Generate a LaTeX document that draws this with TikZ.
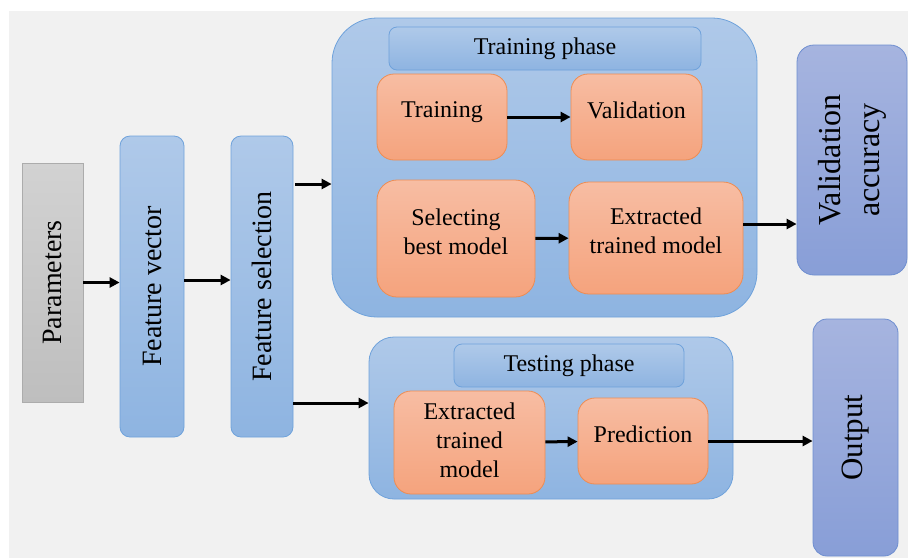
\documentclass[tikz,border=0pt]{standalone}
\usepackage{tikz}
\usepackage{xcolor}
\usepackage{fontspec}
\setmainfont{LiberationSerif}[Extension=.ttf, UprightFont=*-Regular, BoldFont=*-Bold,
  ItalicFont=*-Italic, BoldItalicFont=*-BoldItalic]
\usetikzlibrary{arrows.meta}

\definecolor{panelgrey}{HTML}{F1F1F1}
\definecolor{greytop}{HTML}{D2D2D2}
\definecolor{greybot}{HTML}{BEBEBE}
\definecolor{greyline}{HTML}{ACACAC}
\definecolor{bluetop}{HTML}{AFC9E9}
\definecolor{bluebot}{HTML}{8EB4E1}
\definecolor{blueline}{HTML}{6FA2DB}
\definecolor{orangetop}{HTML}{F7BDA3}
\definecolor{orangebot}{HTML}{F5A37D}
\definecolor{orangeline}{HTML}{EE8C52}
\definecolor{purpletop}{HTML}{A6B4DF}
\definecolor{purplebot}{HTML}{889ED7}
\definecolor{purpleline}{HTML}{6E8ED0}

\newcommand{\vtext}[1]{\rotatebox{90}{\fontsize{28}{34}\selectfont #1}}

\begin{document}
\begin{tikzpicture}[x=1pt, y=-1pt,
  box/.style={draw, line width=0.8pt, align=center, inner sep=0pt,
    font=\rmfamily\fontsize{24}{29}\selectfont},
  greybox/.style={box, draw=greyline, top color=greytop, bottom color=greybot},
  bluebox/.style={box, draw=blueline, top color=bluetop, bottom color=bluebot},
  headbox/.style={bluebox, rounded corners=8pt},
  orangebox/.style={box, draw=orangeline, top color=orangetop,
    bottom color=orangebot, rounded corners=17pt},
  purplebox/.style={box, draw=purpleline, top color=purpletop, bottom color=purplebot},
  flow/.style={-{Triangle[length=10pt,width=10pt]}, line width=3pt}]

  % Background panel
  \useasboundingbox (0,0) rectangle (908,558);
  \fill[panelgrey] (9,11) rectangle (908,558);

  % Input columns
  \node[greybox, minimum width=61pt, minimum height=239pt] (par) at (52.5,282.5) {\vtext{Parameters}};
  \node[bluebox, rounded corners=10pt, minimum width=64pt, minimum height=301pt] (fv) at (152,286.5) {\vtext{Feature vector}};
  \node[bluebox, rounded corners=10pt, minimum width=62pt, minimum height=301pt] (fs) at (262,286.5) {\vtext{Feature selection}};

  % Training phase
  \node[bluebox, rounded corners=45pt, minimum width=425pt, minimum height=299pt] (trainbox) at (544.5,167.5) {};
  \node[headbox, minimum width=312pt, minimum height=43pt] (trainhead) at (545,48.5) {Training phase};
  \node[orangebox, text depth=14pt, minimum width=130pt, minimum height=86pt] (train) at (442,117) {Training};
  \node[orangebox, text depth=14pt, minimum width=131pt, minimum height=86pt] (valid) at (636.5,117) {Validation};
  \node[orangebox, text depth=14pt, rounded corners=20pt, minimum width=158pt, minimum height=117pt] (select) at (456,238.5) {Selecting\\best model};
  \node[orangebox, text depth=14pt, rounded corners=20pt, minimum width=174pt, minimum height=112pt] (extract) at (656,238) {Extracted\\trained model};

  % Testing phase
  \node[bluebox, rounded corners=25pt, minimum width=364pt, minimum height=162pt] (testbox) at (551,418) {};
  \node[headbox, minimum width=230pt, minimum height=43pt] (testhead) at (569,365.5) {Testing phase};
  \node[orangebox, text depth=5pt, minimum width=151pt, minimum height=103pt] (textract) at (469.5,442.5) {Extracted\\trained\\model};
  \node[orangebox, text depth=13pt, minimum width=130pt, minimum height=86pt] (predict) at (643,441) {Prediction};

  % Results
  \node[purplebox, rounded corners=17pt, minimum width=110pt, minimum height=230pt] (valacc) at (852,160)
    {\rotatebox{90}{\fontsize{32}{39}\selectfont\begin{tabular}{@{}c@{}}Validation\\accuracy\end{tabular}}};
  \node[purplebox, rounded corners=14pt, minimum width=85pt, minimum height=237pt] (output) at (855.5,437.5)
    {\rotatebox{90}{\fontsize{31}{37}\selectfont Output}};

  % Arrows
  \draw[flow] (par.east) -- (fv.west |- par.east);
  \draw[flow] (fv.east |- 0,280) -- (fs.west |- 0,280);
  \draw[flow] ([xshift=2pt]fs.east |- 0,184) -- (trainbox.west |- 0,184);
  \draw[flow] (fs.east |- 0,403) -- (testbox.west |- 0,403);
  \draw[flow] (train) -- (valid);
  \draw[flow] (select) -- (extract);
  \draw[flow] (extract.east |- 0,224) -- (valacc.west |- 0,224);
  \draw[flow] (textract) -- (predict);
  \draw[flow] (predict.east) -- (output.west |- predict.east);
\end{tikzpicture}
\end{document}
